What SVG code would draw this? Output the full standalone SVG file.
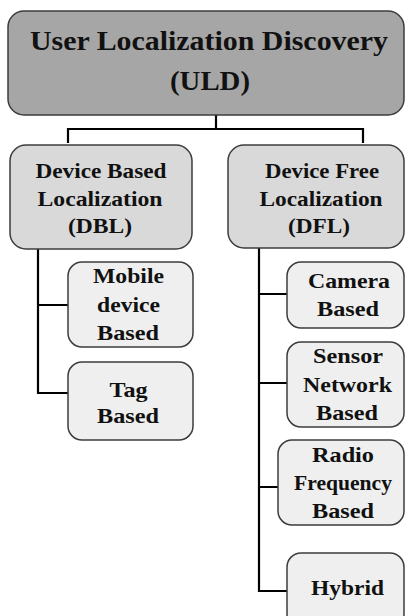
<svg xmlns="http://www.w3.org/2000/svg" width="405" height="616" viewBox="0 0 405 616">
  <style>
    .box { stroke: #3c3c3c; stroke-width: 1.5; }
    .root { fill: #a6a6a6; }
    .mid { fill: #d9d9d9; }
    .leaf { fill: #efefef; }
    .link { fill: none; stroke: #000; stroke-width: 2.2; }
    text { font-family: "Liberation Serif", "Times New Roman", serif; font-weight: bold; fill: #111; text-anchor: middle; }
    .t1 { font-size: 26.5px; }
    .t2 { font-size: 22px; }
  </style>
  <rect width="405" height="616" fill="#ffffff"/>

  <!-- connectors -->
  <g id="connectors">
    <path class="link" d="M216,115 V129 M68,143 V129 H363 V143"/>
    <path class="link" d="M38,249 V393 H68 M38,305 H68"/>
    <path class="link" d="M259,248 V591 H287 M259,294 H287 M259,383 H287 M259,487 H278"/>
  </g>

  <g id="uld">
    <rect class="box root" x="8" y="11" width="396" height="104" rx="16"/>
    <text class="t1" x="209" y="50" textLength="358" lengthAdjust="spacingAndGlyphs">User Localization Discovery</text>
    <text class="t1" x="210" y="90" textLength="80" lengthAdjust="spacingAndGlyphs">(ULD)</text>
  </g>

  <g id="dbl">
    <rect class="box mid" x="10" y="145" width="182" height="104" rx="16"/>
    <text class="t2" x="101" y="178" textLength="131" lengthAdjust="spacingAndGlyphs">Device Based</text>
    <text class="t2" x="100" y="206" textLength="125" lengthAdjust="spacingAndGlyphs">Localization</text>
    <text class="t2" x="100" y="233" textLength="64" lengthAdjust="spacingAndGlyphs">(DBL)</text>
  </g>

  <g id="dfl">
    <rect class="box mid" x="228" y="145" width="176" height="103" rx="16"/>
    <text class="t2" x="322" y="178" textLength="114" lengthAdjust="spacingAndGlyphs">Device Free</text>
    <text class="t2" x="321" y="206" textLength="123" lengthAdjust="spacingAndGlyphs">Localization</text>
    <text class="t2" x="319" y="233" textLength="62" lengthAdjust="spacingAndGlyphs">(DFL)</text>
  </g>

  <g id="mobile">
    <rect class="box leaf" x="68" y="262" width="125" height="85" rx="14"/>
    <text class="t2" x="128.5" y="283" textLength="71" lengthAdjust="spacingAndGlyphs">Mobile</text>
    <text class="t2" x="128.5" y="312" textLength="63" lengthAdjust="spacingAndGlyphs">device</text>
    <text class="t2" x="128" y="340" textLength="62" lengthAdjust="spacingAndGlyphs">Based</text>
  </g>

  <g id="tag">
    <rect class="box leaf" x="68" y="362" width="125" height="78" rx="14"/>
    <text class="t2" x="128.5" y="397" textLength="38" lengthAdjust="spacingAndGlyphs">Tag</text>
    <text class="t2" x="128" y="423" textLength="62" lengthAdjust="spacingAndGlyphs">Based</text>
  </g>

  <g id="camera">
    <rect class="box leaf" x="287" y="262" width="117" height="66" rx="14"/>
    <text class="t2" x="349" y="288" textLength="82" lengthAdjust="spacingAndGlyphs">Camera</text>
    <text class="t2" x="348" y="316" textLength="62" lengthAdjust="spacingAndGlyphs">Based</text>
  </g>

  <g id="sensor">
    <rect class="box leaf" x="287" y="342" width="117" height="85" rx="14"/>
    <text class="t2" x="348" y="363" textLength="70" lengthAdjust="spacingAndGlyphs">Sensor</text>
    <text class="t2" x="347.5" y="392" textLength="89" lengthAdjust="spacingAndGlyphs">Network</text>
    <text class="t2" x="347" y="420" textLength="62" lengthAdjust="spacingAndGlyphs">Based</text>
  </g>

  <g id="radio">
    <rect class="box leaf" x="278" y="440" width="126" height="85" rx="14"/>
    <text class="t2" x="343" y="462" textLength="62" lengthAdjust="spacingAndGlyphs">Radio</text>
    <text class="t2" x="343" y="490" textLength="98" lengthAdjust="spacingAndGlyphs">Frequency</text>
    <text class="t2" x="343" y="518" textLength="62" lengthAdjust="spacingAndGlyphs">Based</text>
  </g>

  <g id="hybrid">
    <rect class="box leaf" x="287" y="553" width="117" height="75" rx="14"/>
    <text class="t2" x="347.5" y="595" textLength="73" lengthAdjust="spacingAndGlyphs">Hybrid</text>
  </g>
</svg>
